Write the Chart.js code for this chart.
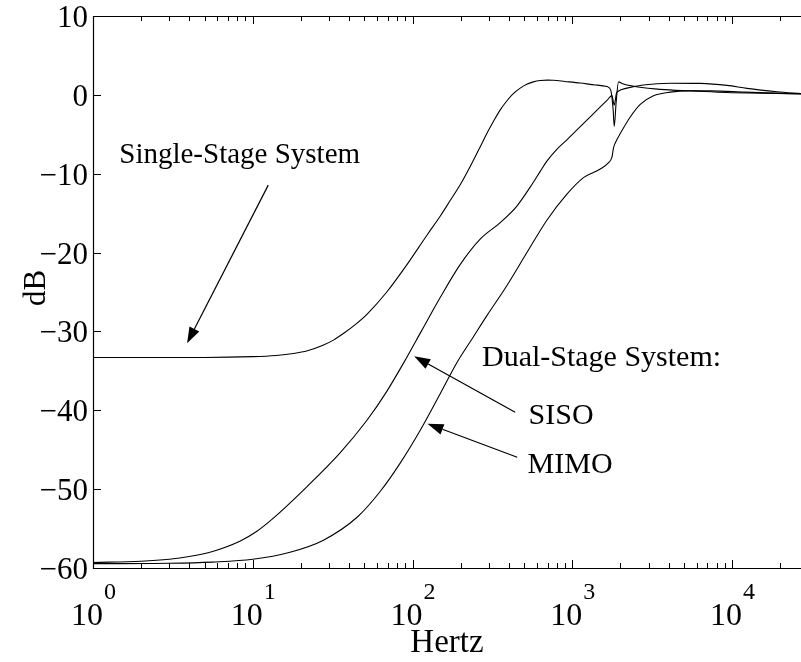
<!DOCTYPE html>
<html>
<head>
<meta charset="utf-8">
<script src="https://cdn.jsdelivr.net/npm/chart.js@4.4.0/dist/chart.umd.min.js"></script>
<style>
  html, body { margin: 0; padding: 0; background: #fff; overflow: hidden; }
  canvas { display: block; }
</style>
</head>
<body>
<canvas id="chart" width="801" height="662"></canvas>
<script>
// values (Hz / dB)
const singleFreq = [1, 5, 10, 14, 18, 22, 27.5, 32, 36.7, 44, 52, 69, 92.5, 123, 150, 172, 200, 239, 265, 295, 320, 354, 390, 427, 472, 518, 570, 630, 700, 760, 900, 1120, 1400, 1650, 1740, 1800, 1830, 1880, 1946, 2050, 2200, 3550, 5720, 9290, 27000];
const singleDb = [-33.3, -33.3, -33.2, -33.05, -32.8, -32.45, -31.75, -31.1, -30.3, -29.1, -27.8, -25.0, -21.5, -17.8, -15.3, -13.4, -11.3, -8.4, -6.6, -4.7, -3.4, -1.9, -0.75, 0.15, 0.85, 1.35, 1.65, 1.82, 1.87, 1.85, 1.7, 1.5, 1.25, 1.05, 0.6, -1.8, -4.0, -1.0, 1.65, 1.45, 1.25, 0.7, 0.5, 0.3, 0.15];

const sisoFreq = [1, 2, 3, 4, 5.6, 8.3, 10.5, 13.4, 21.8, 35.2, 51.7, 69, 92, 114, 149, 199, 265, 354, 450, 545, 630, 693, 800, 925, 1234, 1648, 1770, 1830, 1890, 1938, 2197, 2780, 4103, 6320, 9290, 12390, 19100, 27000];
const sisoDb = [-59.3, -59.15, -58.9, -58.55, -57.9, -56.6, -55.4, -53.7, -49.7, -45.4, -41.3, -37.6, -33.3, -29.9, -25.7, -21.5, -18.3, -16.2, -14.1, -11.7, -9.7, -8.4, -6.9, -5.7, -3.2, -0.7, -0.1, -1.3, 0.2, 0.45, 0.85, 1.25, 1.48, 1.45, 1.2, 0.82, 0.4, 0.15];

const mimoFreq = [1, 3, 5.6, 10, 17.1, 27.5, 44.8, 62.7, 83.7, 112, 149, 189, 240, 292, 389, 520, 693, 925, 1175, 1496, 1686, 1770, 1812, 1900, 1995, 2305, 2662, 3223, 4103, 5500, 7300, 12000, 27000];
const mimoDb = [-59.45, -59.4, -59.25, -58.9, -58.0, -56.5, -53.6, -50.3, -46.7, -42.5, -37.9, -34.0, -30.7, -28.0, -24.2, -20.0, -15.9, -12.6, -10.5, -9.4, -8.6, -7.9, -6.7, -5.7, -4.9, -2.8, -1.2, -0.1, 0.35, 0.5, 0.5, 0.35, 0.1];

const yTicks = [-60, -50, -40, -30, -20, -10, 0, 10];
const xDecades = [0, 1, 2, 3, 4];
const xMax = 27000;

// annotation texts and arrows, in data units (Hz, dB)
const notes = [
  { text: 'Single-Stage System', x: 1.46, y: -8.65, size: 29 },
  { text: 'Dual-Stage System:', x: 272, y: -34.4, size: 30 },
  { text: 'SISO', x: 532, y: -41.8, size: 30 },
  { text: 'MIMO', x: 525, y: -47.9, size: 30 }
];
const arrows = [
  { from: [12.5, -11.45], to: [3.88, -31.5] },
  { from: [439, -40.25], to: [102.4, -33.15] },
  { from: [452, -45.96], to: [124, -41.7] }
];

const FONT = '"Liberation Serif", "Times New Roman", serif';

function toPoints(xs, ys) {
  return xs.map((v, i) => ({ x: v, y: ys[i] }));
}

const frame = {
  id: 'frame',
  afterDraw(chart) {
    const { ctx, chartArea: a } = chart;
    const x = chart.scales.x, y = chart.scales.y;
    ctx.save();
    ctx.strokeStyle = '#000';
    ctx.fillStyle = '#000';
    ctx.lineWidth = 1.2;

    // box (right side falls off the window)
    ctx.beginPath();
    ctx.moveTo(a.right, a.top + 0.5);
    ctx.lineTo(a.left + 0.5, a.top + 0.5);
    ctx.lineTo(a.left + 0.5, a.bottom + 0.5);
    ctx.lineTo(a.right, a.bottom + 0.5);
    ctx.stroke();

    // y ticks + labels
    ctx.lineWidth = 1;
    ctx.font = '31px ' + FONT;
    ctx.textAlign = 'right';
    ctx.textBaseline = 'alphabetic';
    yTicks.forEach(v => {
      const py = Math.round(y.getPixelForValue(v)) + 0.5;
      ctx.beginPath();
      ctx.moveTo(a.left, py);
      ctx.lineTo(a.left + 8, py);
      ctx.stroke();
      const lbl = v < 0 ? '\u2212' + Math.abs(v) : String(v);
      ctx.fillText(lbl, a.left - 5, py + 10.5);
    });

    // x ticks (log, major + minor, bottom and top)
    xDecades.forEach(d => {
      for (let m = 1; m <= 9; m++) {
        const v = m * Math.pow(10, d);
        if (v > xMax) break;
        const px = Math.round(x.getPixelForValue(v)) + 0.5;
        const len = m === 1 ? 8 : 5;
        ctx.beginPath();
        ctx.moveTo(px, a.bottom);
        ctx.lineTo(px, a.bottom - len);
        ctx.moveTo(px, a.top);
        ctx.lineTo(px, a.top + len);
        ctx.stroke();
      }
    });

    // x labels 10^n
    xDecades.forEach(d => {
      const px = x.getPixelForValue(Math.pow(10, d));
      ctx.font = '32px ' + FONT;
      const w1 = ctx.measureText('10').width;
      ctx.font = '24px ' + FONT;
      const w2 = ctx.measureText(String(d)).width;
      const left = px - (w1 + w2) / 2;
      ctx.textAlign = 'left';
      ctx.font = '32px ' + FONT;
      ctx.fillText('10', left, a.bottom + 57);
      ctx.font = '24px ' + FONT;
      ctx.fillText(String(d), left + w1 + 1, a.bottom + 31);
    });

    // axis titles
    ctx.font = '33px ' + FONT;
    ctx.textAlign = 'center';
    ctx.fillText('Hertz', (a.left + a.right) / 2, 652);
    ctx.font = '31px ' + FONT;
    ctx.save();
    ctx.translate(45, (a.top + a.bottom) / 2 - 4);
    ctx.rotate(-Math.PI / 2);
    ctx.fillText('dB', 0, 0);
    ctx.restore();
    ctx.restore();
  }
};

const annotate = {
  id: 'annotate',
  afterDraw(chart) {
    const { ctx } = chart;
    const x = chart.scales.x, y = chart.scales.y;
    ctx.save();
    ctx.fillStyle = '#000';
    ctx.strokeStyle = '#000';
    ctx.textAlign = 'left';
    ctx.textBaseline = 'alphabetic';
    notes.forEach(n => {
      ctx.font = n.size + 'px ' + FONT;
      ctx.fillText(n.text, x.getPixelForValue(n.x), y.getPixelForValue(n.y));
    });
    arrows.forEach(ar => {
      const x0 = x.getPixelForValue(ar.from[0]), y0 = y.getPixelForValue(ar.from[1]);
      const x1 = x.getPixelForValue(ar.to[0]), y1 = y.getPixelForValue(ar.to[1]);
      const ang = Math.atan2(y1 - y0, x1 - x0);
      const hl = 16, hw = 5.5;
      const bx = x1 - hl * Math.cos(ang), by = y1 - hl * Math.sin(ang);
      ctx.lineWidth = 1.2;
      ctx.beginPath();
      ctx.moveTo(x0, y0);
      ctx.lineTo(bx, by);
      ctx.stroke();
      ctx.beginPath();
      ctx.moveTo(x1, y1);
      ctx.lineTo(bx + hw * Math.sin(ang), by - hw * Math.cos(ang));
      ctx.lineTo(bx - hw * Math.sin(ang), by + hw * Math.cos(ang));
      ctx.closePath();
      ctx.fill();
    });
    ctx.restore();
  }
};

const lineStyle = {
  borderColor: '#000',
  borderWidth: 1.1,
  pointRadius: 0,
  fill: false,
  cubicInterpolationMode: 'monotone'
};

new Chart(document.getElementById('chart'), {
  type: 'line',
  data: {
    datasets: [
      { label: 'Single-Stage', data: toPoints(singleFreq, singleDb), ...lineStyle },
      { label: 'SISO', data: toPoints(sisoFreq, sisoDb), ...lineStyle },
      { label: 'MIMO', data: toPoints(mimoFreq, mimoDb), ...lineStyle }
    ]
  },
  options: {
    responsive: false,
    animation: false,
    devicePixelRatio: 1,
    layout: { padding: { top: 16, left: 0, right: 0, bottom: 0 } },
    plugins: { legend: { display: false }, tooltip: { enabled: false } },
    scales: {
      x: {
        type: 'logarithmic', min: 1, max: xMax,
        grid: { display: false }, border: { display: false }, ticks: { display: false },
        afterFit(s) { s.height = 94; }
      },
      y: {
        type: 'linear', min: -60, max: 10,
        grid: { display: false }, border: { display: false }, ticks: { display: false },
        afterFit(s) { s.width = 93; }
      }
    }
  },
  plugins: [frame, annotate]
});
</script>
</body>
</html>
